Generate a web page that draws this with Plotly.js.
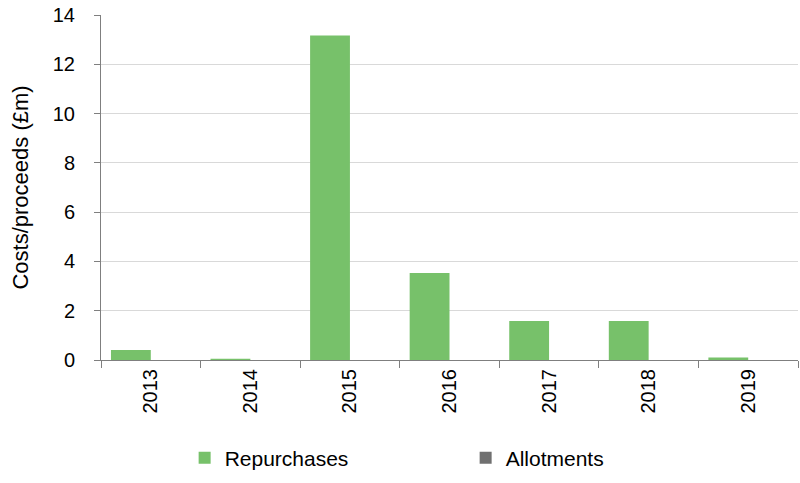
<!DOCTYPE html>
<html>
<head>
<meta charset="utf-8">
<script src="https://cdn.plot.ly/plotly-3.0.1.min.js"></script>
<style>html,body{margin:0;padding:0;background:#fff;}#chart{width:800px;height:483px;}</style>
</head>
<body>
<div id="chart"></div>
<script>
const years = ["2013", "2014", "2015", "2016", "2017", "2018", "2019"];
const repurchases = [0.41, 0.05, 13.17, 3.53, 1.58, 1.58, 0.1];
const allotments = [0, 0, 0, 0, 0, 0, 0];

const font = "'Liberation Sans', Arial, sans-serif";

const traces = [
  {type: "bar", name: "Repurchases", x: years, y: repurchases, marker: {color: "#77c16a"}},
  {type: "bar", name: "Allotments", x: years, y: allotments, marker: {color: "#707070"}}
];

const layout = {
  width: 800, height: 483,
  margin: {l: 101, r: 2, t: 15, b: 123},
  paper_bgcolor: "#fff", plot_bgcolor: "#fff",
  font: {family: font, color: "#000", size: 20},
  barmode: "group", bargap: 0.2, bargroupgap: 0,
  showlegend: true,
  legend: {orientation: "h", x: 0.12, xanchor: "left", y: -0.284, yanchor: "middle",
           entrywidth: 236, entrywidthmode: "pixels", font: {size: 21, family: font}},
  xaxis: {
    type: "category", tickangle: -90, tickson: "boundaries", automargin: false,
    ticks: "outside", ticklen: 7, tickcolor: "#7f7f7f", tickwidth: 1,
    showline: true, linecolor: "#7f7f7f", linewidth: 1,
    showgrid: false, tickfont: {size: 20, family: font}, fixedrange: true
  },
  yaxis: {
    range: [0, 14], dtick: 2, tick0: 0, automargin: false,
    ticks: "outside", ticklen: 6, tickcolor: "#7f7f7f", ticklabelstandoff: 15,
    showline: true, linecolor: "#7f7f7f", linewidth: 1,
    showgrid: true, gridcolor: "#d9d9d9", gridwidth: 1,
    zeroline: false,
    tickfont: {size: 20, family: font},
    title: {text: "Costs/proceeds (£m)", font: {size: 22, family: font}, standoff: 18}
  }
};

Plotly.newPlot("chart", traces, layout, {displayModeBar: false, staticPlot: true});
</script>
</body>
</html>
